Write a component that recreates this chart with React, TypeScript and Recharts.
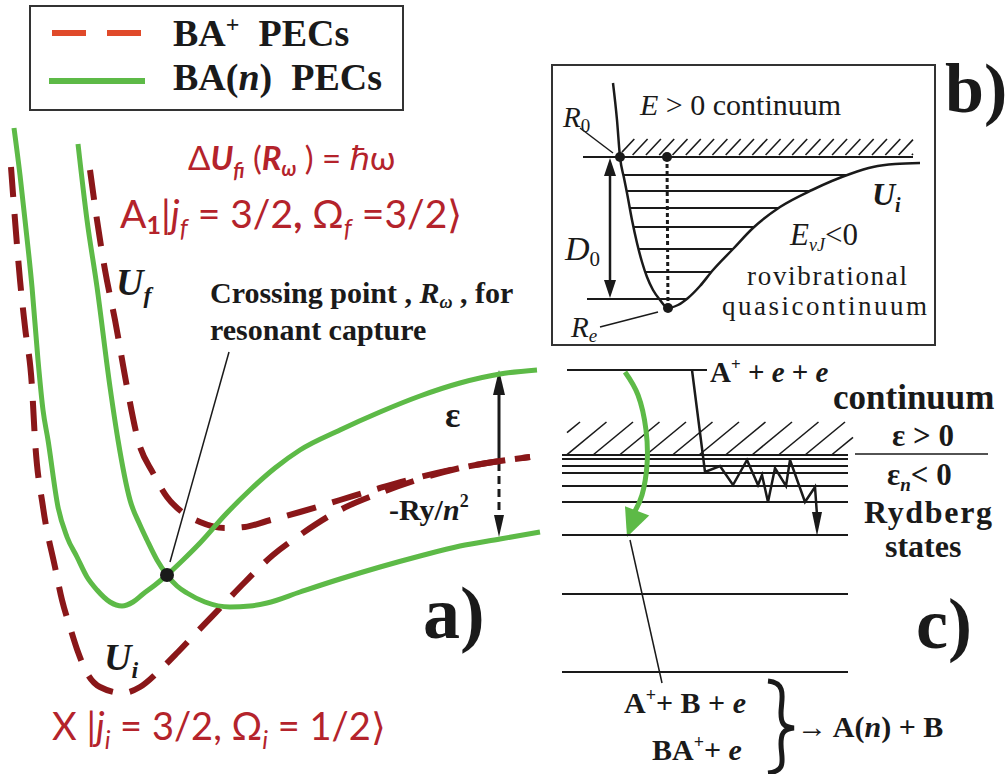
import React from "react";
import { ComposedChart, Line, XAxis, YAxis, ReferenceLine, ReferenceDot, Customized } from "recharts";

const W = 1008;
const H = 774;

const GREEN = "#5dba47";
const DARK_RED = "#8a1719";
const LEGEND_RED = "#e04a2a";
const TEXT_RED = "#b4232b";
const INK = "#1a1a1a";
const serif = "'Liberation Serif', 'Times New Roman', serif";
const sans = "Lato, 'Noto Sans', sans-serif";

// panel a) potential curves, [R, E] (picture units)
const baNLower: number[][] = [
  [14, 128], [20, 175], [25, 220], [32, 287], [38, 360], [43, 410], [48, 440], [58, 507], [67, 537],
  [77, 557], [87, 577], [97, 590], [110, 602], [122, 606], [133, 602], [143, 594], [155, 585], [167, 575],
  [183, 560], [200, 543], [225, 515], [250, 490], [275, 468], [300, 450], [340, 430], [380, 412],
  [420, 396], [460, 383], [500, 374], [537, 370],
];
const baNUpper: number[][] = [
  [78, 144], [87, 220], [97, 287], [110, 387], [118, 440], [130, 500], [140, 525], [147, 540], [157, 560],
  [167, 575], [177, 586], [187, 593], [205, 602], [230, 607], [250, 606], [267, 603], [300, 592],
  [340, 579], [380, 567], [420, 556], [460, 546], [500, 539], [540, 532],
];
const baPlusLower: number[][] = [
  [11, 167], [15, 220], [20, 280], [25, 327], [32, 387], [35, 440], [43, 507], [55, 567], [62, 600],
  [70, 627], [78, 652], [87, 673], [100, 687], [123, 693], [140, 687], [160, 670], [178, 652], [197, 632],
  [220, 608], [245, 582], [273, 555], [300, 535], [340, 510], [380, 493], [420, 479], [460, 468],
  [500, 461], [530, 457],
];
const baPlusUpper: number[][] = [
  [90, 170], [97, 220], [105, 270], [115, 320], [127, 387], [138, 440], [153, 473], [167, 497], [182, 512],
  [200, 522], [225, 528], [245, 527], [267, 521], [300, 512], [340, 500], [380, 488], [420, 477],
  [460, 468], [500, 461], [530, 457],
];
const crossing = { x: 167, y: 575 };

// panel b) Morse-like curve and its levels
const morse: number[][] = [
  [613, 83], [617, 120], [620, 157], [624, 178], [627, 193], [632, 220], [637, 243], [642, 262],
  [647, 277], [653, 290], [660, 300], [668, 308], [678, 305], [688, 298], [700, 286], [713, 270],
  [733, 249], [753, 228], [780, 207], [812, 190], [850, 174], [873, 167], [895, 164], [920, 163],
];
const vibLevels = [175, 191, 208, 227, 249, 272];
const dissociation = { y: 157, from: 583, to: 913 };
const groundLevel = { y: 299, from: 587 };
const morseDots = [{ x: 620, y: 157 }, { x: 667, y: 157 }, { x: 668, y: 308 }];

// panel c) Rydberg ladder
const ladderFrom = 562;
const ladderTo = 848;
const ionLevel = { y: 370, from: 567, to: 707 };
const rydbergLevels = [455, 459, 466, 473, 486, 502, 535];
const lowLevels = [594, 672];
const cascade: number[][] = [
  [692, 370], [705, 472], [720, 466], [733, 485], [747, 460], [758, 485], [762, 475], [768, 502],
  [775, 468], [786, 486], [790, 460], [805, 502], [815, 487], [817, 515],
];
const capture: number[][] = [[625, 372], [638, 395], [646, 430], [647, 465], [642, 495], [635, 511]];

const pts = (a: number[][]) => a.map(([x, y]) => ({ x, y }));

// x where a horizontal level meets the curve, on one branch
function crossAt(curve: number[][], y: number, right: boolean) {
  let minI = 0;
  curve.forEach((p, i) => { if (p[1] > curve[minI][1]) minI = i; });
  const branch = right ? curve.slice(minI) : curve.slice(0, minI + 1);
  for (let i = 0; i < branch.length - 1; i++) {
    const [x1, y1] = branch[i];
    const [x2, y2] = branch[i + 1];
    if ((y - y1) * (y - y2) <= 0 && y1 !== y2) return x1 + ((y - y1) / (y2 - y1)) * (x2 - x1);
  }
  return branch[0][0];
}

function hatches(x0: number, x1: number, yB: number, yT: number, dx: number, step: number, xMin: number, xMax: number) {
  const out: JSX.Element[] = [];
  for (let x = x0; x < x1; x += step) {
    let t0 = 0, t1 = 1;
    if (x < xMin) t0 = (xMin - x) / dx;
    if (x + dx > xMax) t1 = (xMax - x) / dx;
    if (t1 <= t0) continue;
    out.push(
      <line key={`${x0}-${x}`} x1={x + dx * t0} y1={yB + (yT - yB) * t0} x2={x + dx * t1} y2={yB + (yT - yB) * t1}
        stroke={INK} strokeWidth={1.6} />
    );
  }
  return out;
}

function Head({ tip, from, len, half, fill = INK }: { tip: number[]; from: number[]; len: number; half: number; fill?: string }) {
  const dx = tip[0] - from[0];
  const dy = tip[1] - from[1];
  const d = Math.hypot(dx, dy);
  const ux = dx / d, uy = dy / d;
  const bx = tip[0] - ux * len, by = tip[1] - uy * len;
  const p = `${tip[0]},${tip[1]} ${bx - uy * half},${by + ux * half} ${bx + uy * half},${by - ux * half}`;
  return <polygon points={p} fill={fill} />;
}

function Annotations() {
  const b = { fontFamily: serif, fontWeight: 700, fill: INK };
  const pre = { whiteSpace: "pre" as const };
  return (
    <g>
      {/* legend */}
      <rect x={30} y={6} width={373} height={104} fill="#fff" stroke="#333" strokeWidth={2} />
      <line x1={52} y1={33} x2={141} y2={33} stroke={LEGEND_RED} strokeWidth={6} strokeDasharray="34 21" />
      <line x1={49} y1={81} x2={145} y2={81} stroke={GREEN} strokeWidth={6} />
      <text x={173} y={46} fontSize={38} {...b} style={pre}>
        BA<tspan fontSize={24} dy={-14}>+</tspan><tspan dy={14}>{"  PECs"}</tspan>
      </text>
      <text x={173} y={90} fontSize={38} {...b} style={pre}>
        BA(<tspan fontStyle="italic">n</tspan>){"  PECs"}
      </text>

      {/* panel a labels */}
      <text x={188} y={170} fontSize={33} fontFamily={sans} fill={TEXT_RED} style={pre}>
        Δ<tspan fontWeight={700} fontStyle="italic">U</tspan>
        <tspan fontSize={20} dy={8} fontWeight={700} fontStyle="italic">fi</tspan>
        <tspan dy={-8}> (</tspan><tspan fontWeight={700} fontStyle="italic">R</tspan>
        <tspan fontSize={20} dy={6} fontStyle="italic" fontWeight={700}>ω</tspan>
        <tspan dy={-6}> ) = ℏω</tspan>
      </text>
      <text x={120} y={228} fontSize={39} fontFamily={sans} fill={TEXT_RED}>
        A<tspan fontSize={25} dy={6} fontWeight={700}>1</tspan>
        <tspan dy={-6}>|</tspan><tspan fontStyle="italic">j</tspan>
        <tspan fontSize={25} dy={9} fontStyle="italic">f</tspan>
        <tspan dy={-9}> = 3/2</tspan><tspan fontWeight={700}>,</tspan><tspan> Ω</tspan>
        <tspan fontSize={25} dy={9} fontStyle="italic">f</tspan>
        <tspan dy={-9}> =3/2⟩</tspan>
      </text>
      <text x={52} y={740} fontSize={38} fontFamily={sans} fill={TEXT_RED}>
        X |<tspan fontStyle="italic">j</tspan>
        <tspan fontSize={25} dy={9} fontStyle="italic">i</tspan>
        <tspan dy={-9}> = 3/2, Ω</tspan>
        <tspan fontSize={25} dy={9} fontStyle="italic">i</tspan>
        <tspan dy={-9}> = 1/2⟩</tspan>
      </text>
      <text x={116} y={295} fontSize={38} {...b} fontStyle="italic">
        U<tspan fontSize={24} dy={8}>f</tspan>
      </text>
      <text x={104} y={670} fontSize={38} {...b} fontStyle="italic">
        U<tspan fontSize={24} dy={8}>i</tspan>
      </text>
      <text x={210} y={303} fontSize={30} {...b}>
        Crossing point , <tspan fontStyle="italic">R</tspan>
        <tspan fontSize={18} dy={5} fontStyle="italic">ω</tspan>
        <tspan dy={-5}> , for</tspan>
      </text>
      <text x={210} y={340} fontSize={30} {...b}>resonant capture</text>
      <line x1={170} y1={562} x2={229} y2={352} stroke={INK} strokeWidth={1.5} />
      <text x={445} y={427} fontSize={36} {...b}>ε</text>
      <text x={389} y={520} fontSize={30} {...b}>
        -Ry/<tspan fontStyle="italic">n</tspan><tspan fontSize={18} dy={-13}>2</tspan>
      </text>
      <line x1={499} y1={390} x2={499} y2={461} stroke={INK} strokeWidth={3} />
      <Head tip={[499, 370]} from={[499, 400]} len={25} half={6} />
      <line x1={499} y1={463} x2={499} y2={518} stroke={INK} strokeWidth={3} strokeDasharray="8 5" />
      <Head tip={[499, 537]} from={[499, 510]} len={22} half={5} />
      <text x={423} y={638} fontSize={74} {...b}>a)</text>

      {/* panel b */}
      <rect x={552} y={65} width={383} height={280} fill="none" stroke="#333" strokeWidth={2} />
      {hatches(606, 913, 155, 139, 15, 13.3, 622, 913)}
      <text x={563} y={127} fontSize={29} fontFamily={serif} fill={INK}>
        <tspan fontStyle="italic">R</tspan><tspan fontSize={19} dy={5}>0</tspan>
      </text>
      <line x1={580} y1={128} x2={613} y2={153} stroke={INK} strokeWidth={1.5} />
      <text x={640} y={115} fontSize={30} fontFamily={serif} fill={INK}>
        <tspan fontStyle="italic">E</tspan> {"> 0 continuum"}
      </text>
      <text x={872} y={205} fontSize={32} {...b} fontStyle="italic">
        U<tspan fontSize={20} dy={7}>i</tspan>
      </text>
      <text x={565} y={260} fontSize={34} fontFamily={serif} fill={INK}>
        <tspan fontStyle="italic">D</tspan><tspan fontSize={21} dy={6}>0</tspan>
      </text>
      <line x1={610} y1={172} x2={610} y2={284} stroke={INK} strokeWidth={2.5} />
      <Head tip={[610, 158]} from={[610, 200]} len={18} half={6} />
      <Head tip={[610, 298]} from={[610, 250]} len={18} half={6} />
      <text x={790} y={245} fontSize={31} fontFamily={serif} fill={INK}>
        <tspan fontStyle="italic">E</tspan><tspan fontSize={18} dy={6} fontStyle="italic">vJ</tspan>
        <tspan dy={-6}>{"<0"}</tspan>
      </text>
      <text x={747} y={285} fontSize={27} fontFamily={serif} fill={INK} textLength={160}>rovibrational</text>
      <text x={722} y={315} fontSize={27} fontFamily={serif} fill={INK} textLength={205}>quasicontinuum</text>
      <text x={571} y={337} fontSize={29} fontFamily={serif} fill={INK}>
        <tspan fontStyle="italic">R</tspan><tspan fontSize={19} dy={5} fontStyle="italic">e</tspan>
      </text>
      <line x1={600} y1={327} x2={658} y2={312} stroke={INK} strokeWidth={1.5} />
      <text x={945} y={112} fontSize={70} {...b}>b)</text>

      {/* panel c */}
      {hatches(540, 853, 455, 422, 40, 26.5, 567, 853)}
      <text x={710} y={382} fontSize={29} {...b}>
        A<tspan fontSize={17} dy={-12}>+</tspan><tspan dy={12}> + </tspan>
        <tspan fontStyle="italic">e</tspan> + <tspan fontStyle="italic">e</tspan>
      </text>
      <Head tip={[817, 536]} from={[817, 505]} len={24} half={5} />
      <Head tip={[627, 537]} from={[639, 506]} len={28} half={13} fill={GREEN} />
      <text x={833} y={409} fontSize={35} {...b}>continuum</text>
      <text x={892} y={446} fontSize={31} {...b}>{"ε > 0"}</text>
      <line x1={855} y1={454} x2={988} y2={454} stroke={INK} strokeWidth={1.5} />
      <text x={887} y={485} fontSize={31} {...b}>
        ε<tspan fontSize={19} dy={6} fontStyle="italic">n</tspan><tspan dy={-6}>{"< 0"}</tspan>
      </text>
      <text x={864} y={523} fontSize={32} {...b} textLength={128}>Rydberg</text>
      <text x={885} y={557} fontSize={32} {...b}>states</text>
      <text x={916} y={648} fontSize={72} {...b}>c)</text>
      <line x1={630} y1={540} x2={662} y2={683} stroke={INK} strokeWidth={1.5} />
      <text x={624} y={713} fontSize={30} {...b}>
        A<tspan fontSize={18} dy={-12}>+</tspan><tspan dy={12}>+ B + </tspan><tspan fontStyle="italic">e</tspan>
      </text>
      <text x={652} y={760} fontSize={30} {...b}>
        BA<tspan fontSize={18} dy={-12}>+</tspan><tspan dy={12}>+ </tspan><tspan fontStyle="italic">e</tspan>
      </text>
      <path
        d="M768,681 C788,683 781,700 781,713 C781,723 783,727 794,728 C783,729 781,734 781,744 C781,758 788,771 768,773"
        fill="none" stroke={INK} strokeWidth={5} />
      <text x={797} y={737} fontSize={30} {...b}>
        → A(<tspan fontStyle="italic">n</tspan>) + B
      </text>
    </g>
  );
}

export default function App() {
  const levelLines = [
    ...vibLevels.map((y) => ({ y, from: crossAt(morse, y, false), to: crossAt(morse, y, true) })),
    { y: groundLevel.y, from: groundLevel.from, to: crossAt(morse, groundLevel.y, true) },
    dissociation,
    ionLevel,
    ...rydbergLevels.map((y) => ({ y, from: ladderFrom, to: ladderTo })),
    ...lowLevels.map((y) => ({ y, from: ladderFrom, to: ladderTo })),
  ];
  return (
    <div style={{ width: W, height: H, background: "#fff" }}>
      <style>{"body{margin:0}"}</style>
      <ComposedChart width={W} height={H} margin={{ top: 0, right: 0, bottom: 0, left: 0 }}>
        <XAxis type="number" dataKey="x" domain={[0, W]} hide allowDataOverflow />
        <YAxis type="number" dataKey="y" domain={[0, H]} reversed hide allowDataOverflow />
        <Customized component={<Annotations />} />
        {levelLines.map((l, i) => (
          <ReferenceLine key={`lv-${i}`} segment={[{ x: l.from, y: l.y }, { x: l.to, y: l.y }]}
            stroke={INK} strokeWidth={2} ifOverflow="visible" />
        ))}
        <ReferenceLine segment={[morseDots[1], morseDots[2]]} stroke={INK} strokeWidth={3}
          strokeDasharray="4 3" ifOverflow="visible" />
        <Line data={pts(baPlusLower)} dataKey="y" type="monotone" stroke={DARK_RED} strokeWidth={6}
          strokeDasharray="30 17" dot={false} activeDot={false} isAnimationActive={false} />
        <Line data={pts(baPlusUpper)} dataKey="y" type="monotone" stroke={DARK_RED} strokeWidth={6}
          strokeDasharray="30 17" dot={false} activeDot={false} isAnimationActive={false} />
        <Line data={pts(baNLower)} dataKey="y" type="monotone" stroke={GREEN} strokeWidth={5}
          dot={false} activeDot={false} isAnimationActive={false} />
        <Line data={pts(baNUpper)} dataKey="y" type="monotone" stroke={GREEN} strokeWidth={5}
          dot={false} activeDot={false} isAnimationActive={false} />
        <Line data={pts(morse)} dataKey="y" type="monotone" stroke={INK} strokeWidth={2.5}
          dot={false} activeDot={false} isAnimationActive={false} />
        <Line data={pts(cascade)} dataKey="y" type="linear" stroke={INK} strokeWidth={2.5}
          dot={false} activeDot={false} isAnimationActive={false} />
        <Line data={pts(capture)} dataKey="y" type="natural" stroke={GREEN} strokeWidth={5}
          dot={false} activeDot={false} isAnimationActive={false} />
        <ReferenceDot x={crossing.x} y={crossing.y} r={7} fill={INK} stroke="none" />
        {morseDots.map((d, i) => (
          <ReferenceDot key={`md-${i}`} x={d.x} y={d.y} r={5} fill={INK} stroke="none" />
        ))}
      </ComposedChart>
    </div>
  );
}
